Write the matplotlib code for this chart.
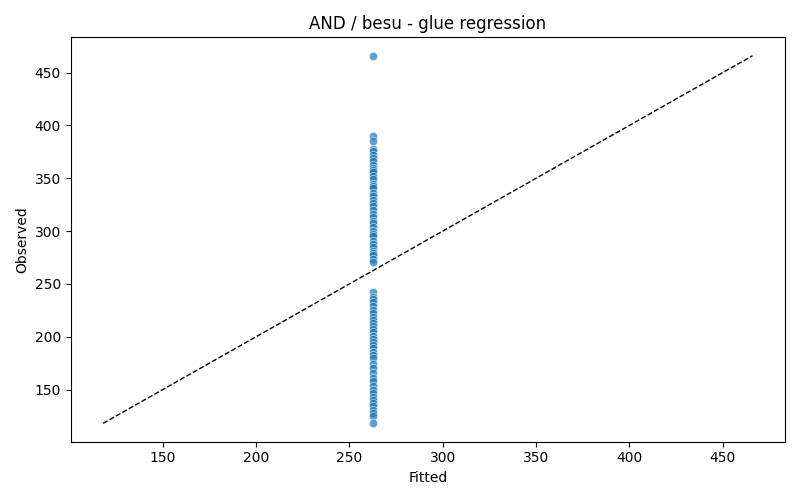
import matplotlib
matplotlib.use('Agg')
import matplotlib.pyplot as plt
import seaborn as sns
import numpy as np

observed = [466, 390, 385, 378, 376, 372, 369, 366, 363, 360, 358, 356, 352,
            349, 345, 343, 341, 336, 333, 329, 327, 324, 320, 316, 313, 310,
            308, 304, 300, 297, 295, 291, 288, 285, 281, 279, 277, 274, 271,
            242, 238, 236, 233, 229, 225, 222, 219, 216, 213, 210, 207, 204,
            201, 198, 195, 192, 189, 186, 183, 180, 174, 170, 166, 161, 158,
            153, 150, 147, 143, 140, 137, 134, 131, 128, 125, 118]
fitted = [262.8] * len(observed)

plt.figure(figsize=(8, 5), dpi=100)
sns.scatterplot(x=fitted, y=observed, alpha=0.7)
lo = min(observed)
hi = max(observed)
plt.plot([lo, hi], [lo, hi], 'k--', linewidth=1)
plt.xlabel('Fitted')
plt.ylabel('Observed')
plt.title('AND / besu - glue regression')
plt.tight_layout()
plt.savefig('out.png')
